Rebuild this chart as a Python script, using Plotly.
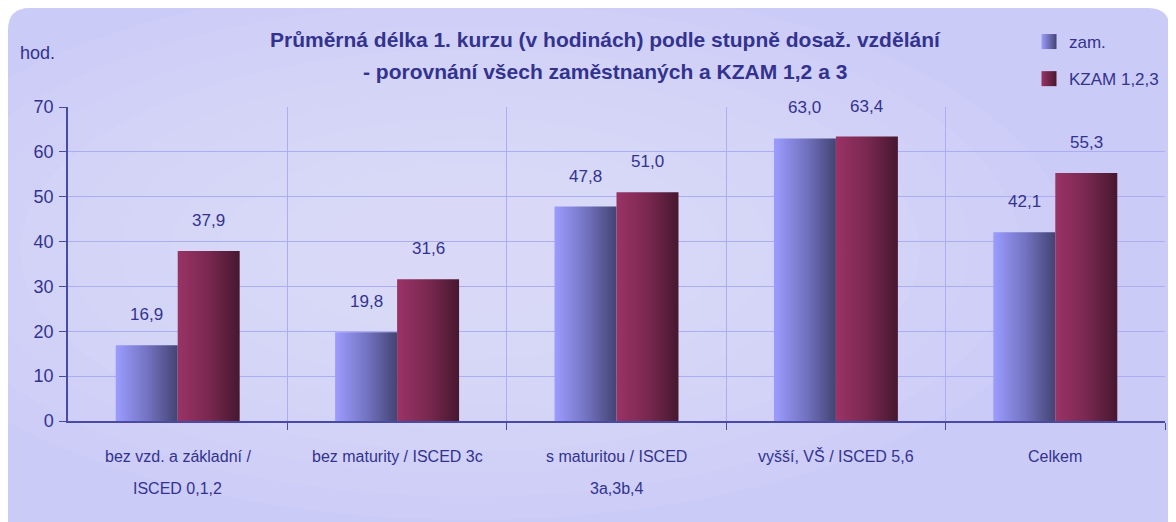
import plotly.graph_objects as go

# data
categories_l1 = ['bez vzd. a základní /', 'bez maturity / ISCED 3c', 's maturitou / ISCED',
                 'vyšší, VŠ / ISCED 5,6', 'Celkem']
categories_l2 = ['ISCED 0,1,2', '', '3a,3b,4', '', '']
zam = [16.9, 19.8, 47.8, 63.0, 42.1]
kzam = [37.9, 31.6, 51.0, 63.4, 55.3]
series_names = ['zam.', 'KZAM 1,2,3']
title_l1 = 'Průměrná délka 1. kurzu (v hodinách) podle stupně dosaž. vzdělání'
title_l2 = '- porovnání všech zaměstnaných a KZAM 1,2 a 3'
y_ticks = [0, 10, 20, 30, 40, 50, 60, 70]

W, H = 1176, 522
OFF = 8  # page body margin
L, R, T, B = 60, 19, 99, 109
PW, PH = W - L - R, H - T - B

TXT = '#33338f'
FONT = 'Liberation Sans, Arial, sans-serif'
BW = 0.2825


# screen pixel -> paper coords
def px(x):
    return (x - OFF - L) / PW


def py(y):
    return (H - B - (y - OFF)) / PH


def fmt(v):
    return f'{v:.1f}'.replace('.', ',')


fig = go.Figure()

grads = [
    [[0, '#9c9cff'], [0.5, '#7474c4'], [1, '#434373']],
    [[0, '#9a3366'], [0.5, '#7a2850'], [1, '#46182e']],
]
for s, vals in enumerate([zam, kzam]):
    for i, v in enumerate(vals):
        x0 = i - BW + s * BW
        x1 = x0 + BW
        fig.add_trace(go.Scatter(
            x=[x0, x0, x1, x1, x0], y=[0, v, v, 0, 0],
            mode='lines', line=dict(width=0), fill='toself',
            fillcolor=grads[s][1][1],
            fillgradient=dict(type='horizontal', colorscale=grads[s]),
            showlegend=False, hoverinfo='skip'))
        fig.add_annotation(x=x0 + BW / 2, y=v, text=fmt(v), showarrow=False,
                           yanchor='bottom', yshift=19,
                           font=dict(size=17, color=TXT, family=FONT))
    # legend entry only
    fig.add_trace(go.Scatter(
        x=[None], y=[None], mode='markers', name=series_names[s], legendgroup=series_names[s],
        marker=dict(symbol='square', size=15, color=grads[s][0][1],
                    gradient=dict(type='horizontal', color=grads[s][2][1]))))

# category labels (two lines, wide spacing)
for i, (a, b) in enumerate(zip(categories_l1, categories_l2)):
    fig.add_annotation(x=i, xref='x', y=py(456), yref='paper', text=a, showarrow=False,
                       font=dict(size=16, color=TXT, family=FONT), yanchor='middle')
    if b:
        fig.add_annotation(x=i, xref='x', y=py(488), yref='paper', text=b, showarrow=False,
                           font=dict(size=16, color=TXT, family=FONT), yanchor='middle')

# title and unit
for txt, yy in [(title_l1, 40), (title_l2, 72)]:
    fig.add_annotation(x=px(605), y=py(yy), xref='paper', yref='paper', text=f'<b>{txt}</b>',
                       showarrow=False, font=dict(size=21, color=TXT, family=FONT),
                       yanchor='middle', xanchor='center')
fig.add_annotation(x=px(18), y=py(53), xref='paper', yref='paper', text='hod.',
                   showarrow=False, font=dict(size=18, color=TXT, family=FONT),
                   xanchor='left', yanchor='middle')

# rounded background panel
x0, x1, y0, y1, r = 8, 1170, 8, 522 + 30, 22
rx, ry = r / PW, r / PH
path = (f'M {px(x0)+rx},{py(y0)} L {px(x1)-rx},{py(y0)} Q {px(x1)},{py(y0)} {px(x1)},{py(y0)-ry} '
        f'L {px(x1)},{py(y1)+ry} Q {px(x1)},{py(y1)} {px(x1)-rx},{py(y1)} '
        f'L {px(x0)+rx},{py(y1)} Q {px(x0)},{py(y1)} {px(x0)},{py(y1)+ry} '
        f'L {px(x0)},{py(y0)-ry} Q {px(x0)},{py(y0)} {px(x0)+rx},{py(y0)} Z')
fig.add_shape(type='path', path=path, xref='paper', yref='paper', layer='below',
              fillcolor='#cbcbf7', line=dict(width=0))

# soft radial glow in the middle of the chart (background shading)
cx, cy = 470, 250
for k in range(10):
    ex, ey = 600 - k * 50, 270 - k * 23
    fig.add_shape(type='circle', xref='paper', yref='paper', layer='below',
                  x0=px(cx - ex), x1=px(cx + ex), y0=py(cy + ey), y1=py(cy - ey),
                  fillcolor='white', opacity=0.045, line=dict(width=0))

fig.update_layout(
    width=W, height=H,
    margin=dict(l=L, r=R, t=T, b=B, autoexpand=False),
    paper_bgcolor='white',
    plot_bgcolor='rgba(255,255,255,0.38)',
    font=dict(family=FONT, size=15, color=TXT),
    showlegend=True,
    legend=dict(xref='container', yref='container', x=1021 / W, y=1 - 16 / H,
                xanchor='left', yanchor='top',
                bgcolor='rgba(0,0,0,0)', font=dict(size=17, color=TXT, family=FONT),
                tracegroupgap=12, itemwidth=30),
    xaxis=dict(range=[-0.5, 4.5], tickvals=[0.5, 1.5, 2.5, 3.5, 4.5], showticklabels=False,
               ticks='outside', ticklen=7, tickcolor='#4a4aa0', showgrid=True,
               gridcolor='#adadf5', gridwidth=1, showline=True, linecolor='#4a4aa0',
               linewidth=1.5, zeroline=False, fixedrange=True),
    yaxis=dict(range=[0, 70], tickvals=y_ticks, ticks='outside', ticklen=7,
               tickcolor='#4a4aa0', showgrid=True, gridcolor='#adadf5', gridwidth=1,
               showline=True, linecolor='#4a4aa0', linewidth=1.5, zeroline=False,
               tickfont=dict(size=18, color=TXT, family=FONT), ticklabelstandoff=2),
)

fig.write_html('out.html')
